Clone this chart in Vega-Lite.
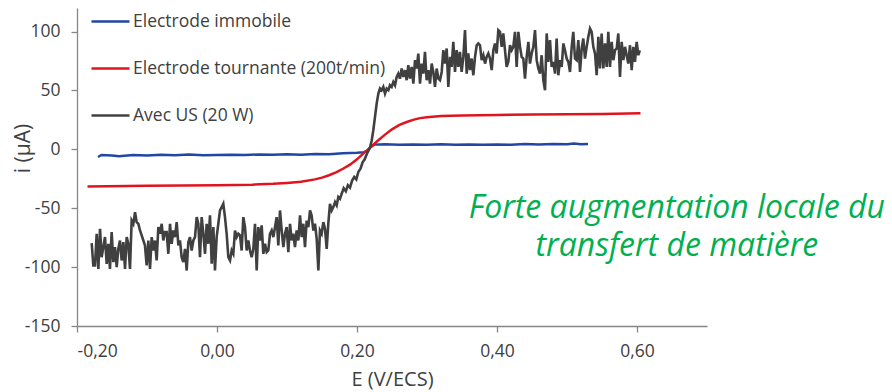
{
  "$schema": "https://vega.github.io/schema/vega-lite/v6.json",
  "width": 630,
  "height": 318,
  "autosize": {"type": "none"},
  "padding": {"left": 77, "top": 8, "right": 185, "bottom": 66},
  "background": "white",
  "config": {
    "view": {"stroke": null},
    "font": "Open Sans",
    "axis": {
      "grid": false,
      "domainColor": "#868686",
      "domainWidth": 1.3,
      "tickColor": "#868686",
      "tickWidth": 1.3,
      "tickSize": 6,
      "labelFont": "Open Sans",
      "labelFontSize": 17.5,
      "labelColor": "#404040",
      "titleFont": "Open Sans",
      "titleFontSize": 20,
      "titleFontWeight": "normal",
      "titleColor": "#404040"
    }
  },
  "datasets": {
    "immobile": [
      {"E": -0.170, "i": -6.5}, {"E": -0.165, "i": -4.8}, {"E": -0.15, "i": -5.2}, {"E": -0.14, "i": -5.8},
      {"E": -0.12, "i": -4.9}, {"E": -0.10, "i": -5.3}, {"E": -0.08, "i": -4.6}, {"E": -0.06, "i": -5.0},
      {"E": -0.04, "i": -4.4}, {"E": -0.02, "i": -5.1}, {"E": 0.00, "i": -4.8}, {"E": 0.02, "i": -4.5},
      {"E": 0.04, "i": -4.9}, {"E": 0.06, "i": -4.3}, {"E": 0.08, "i": -4.7}, {"E": 0.10, "i": -4.2},
      {"E": 0.12, "i": -4.5}, {"E": 0.14, "i": -3.9}, {"E": 0.16, "i": -4.1}, {"E": 0.18, "i": -3.4},
      {"E": 0.20, "i": -3.0}, {"E": 0.21, "i": -2.4}, {"E": 0.215, "i": -1.0}, {"E": 0.22, "i": 2.5},
      {"E": 0.225, "i": 4.0}, {"E": 0.24, "i": 4.3}, {"E": 0.26, "i": 3.9}, {"E": 0.28, "i": 4.2},
      {"E": 0.30, "i": 3.8}, {"E": 0.32, "i": 4.3}, {"E": 0.34, "i": 3.9}, {"E": 0.36, "i": 4.1},
      {"E": 0.38, "i": 3.8}, {"E": 0.40, "i": 4.2}, {"E": 0.42, "i": 3.9}, {"E": 0.44, "i": 4.5},
      {"E": 0.46, "i": 4.0}, {"E": 0.48, "i": 4.6}, {"E": 0.50, "i": 4.3}, {"E": 0.51, "i": 5.0},
      {"E": 0.52, "i": 4.4}, {"E": 0.53, "i": 4.6}
    ],
    "tournante": [
      {"E": -0.185, "i": -31.5}, {"E": -0.10, "i": -31.0}, {"E": 0.0, "i": -30.5}, {"E": 0.05, "i": -30.0},
      {"E": 0.08, "i": -29.3}, {"E": 0.10, "i": -28.5}, {"E": 0.12, "i": -27.5}, {"E": 0.14, "i": -25.5},
      {"E": 0.15, "i": -24.0}, {"E": 0.16, "i": -22.0}, {"E": 0.17, "i": -19.5}, {"E": 0.18, "i": -16.5},
      {"E": 0.19, "i": -13.0}, {"E": 0.20, "i": -8.5}, {"E": 0.21, "i": -3.0}, {"E": 0.22, "i": 2.0},
      {"E": 0.23, "i": 7.5}, {"E": 0.24, "i": 12.5}, {"E": 0.25, "i": 17.0}, {"E": 0.26, "i": 20.5},
      {"E": 0.27, "i": 23.0}, {"E": 0.28, "i": 25.0}, {"E": 0.29, "i": 26.5}, {"E": 0.30, "i": 27.3},
      {"E": 0.32, "i": 28.2}, {"E": 0.35, "i": 28.8}, {"E": 0.40, "i": 29.2}, {"E": 0.45, "i": 29.5},
      {"E": 0.50, "i": 29.8}, {"E": 0.55, "i": 30.0}, {"E": 0.605, "i": 30.6}
    ],
    "us": [
      {"E": -0.179, "i": -79.7}, {"E": -0.1767, "i": -98.6}, {"E": -0.1743, "i": -98.6}, {"E": -0.1719, "i": -71.7},
      {"E": -0.1695, "i": -101.5}, {"E": -0.1671, "i": -67.4}, {"E": -0.1648, "i": -91.6}, {"E": -0.1624, "i": -83.0},
      {"E": -0.16, "i": -74.5}, {"E": -0.1576, "i": -97.2}, {"E": -0.1552, "i": -80.2}, {"E": -0.1529, "i": -101.5},
      {"E": -0.1505, "i": -70.3}, {"E": -0.1481, "i": -95.8}, {"E": -0.1457, "i": -83.0}, {"E": -0.1433, "i": -100.1},
      {"E": -0.141, "i": -84.5}, {"E": -0.1386, "i": -77.4}, {"E": -0.1362, "i": -94.4}, {"E": -0.1338, "i": -78.8},
      {"E": -0.1314, "i": -101.5}, {"E": -0.129, "i": -74.5}, {"E": -0.1267, "i": -80.2}, {"E": -0.1243, "i": -101.5},
      {"E": -0.1219, "i": -60.4}, {"E": -0.1195, "i": -63.2}, {"E": -0.1171, "i": -53.3}, {"E": -0.1148, "i": -61.8},
      {"E": -0.1124, "i": -63.2}, {"E": -0.11, "i": -68.9}, {"E": -0.1076, "i": -73.1}, {"E": -0.1052, "i": -77.4},
      {"E": -0.1029, "i": -81.6}, {"E": -0.1005, "i": -98.6}, {"E": -0.0981, "i": -77.4}, {"E": -0.0957, "i": -101.5},
      {"E": -0.0933, "i": -74.5}, {"E": -0.091, "i": -85.9}, {"E": -0.0886, "i": -77.4}, {"E": -0.0862, "i": -94.4},
      {"E": -0.0838, "i": -66.0}, {"E": -0.0814, "i": -71.7}, {"E": -0.079, "i": -63.2}, {"E": -0.0767, "i": -77.4},
      {"E": -0.0743, "i": -70.3}, {"E": -0.0719, "i": -70.3}, {"E": -0.0695, "i": -88.7}, {"E": -0.0671, "i": -63.2},
      {"E": -0.0648, "i": -80.2}, {"E": -0.0624, "i": -68.9}, {"E": -0.06, "i": -74.5}, {"E": -0.0576, "i": -61.8},
      {"E": -0.0552, "i": -81.6}, {"E": -0.0529, "i": -77.4}, {"E": -0.0505, "i": -91.6}, {"E": -0.0481, "i": -95.8},
      {"E": -0.0457, "i": -84.5}, {"E": -0.0433, "i": -102.9}, {"E": -0.041, "i": -78.8}, {"E": -0.0386, "i": -74.5},
      {"E": -0.0362, "i": -85.9}, {"E": -0.0338, "i": -77.4}, {"E": -0.0314, "i": -74.5}, {"E": -0.029, "i": -57.6},
      {"E": -0.0267, "i": -63.2}, {"E": -0.0243, "i": -91.6}, {"E": -0.0219, "i": -57.6}, {"E": -0.0195, "i": -71.7},
      {"E": -0.0171, "i": -88.7}, {"E": -0.0148, "i": -63.2}, {"E": -0.0124, "i": -80.2}, {"E": -0.01, "i": -56.1},
      {"E": -0.0076, "i": -97.2}, {"E": -0.0052, "i": -66.0}, {"E": -0.0029, "i": -102.9}, {"E": -0.0005, "i": -74.5},
      {"E": 0.0019, "i": -63.2}, {"E": 0.0043, "i": -51.9}, {"E": 0.0067, "i": -49.0}, {"E": 0.009, "i": -46.2},
      {"E": 0.0114, "i": -57.6}, {"E": 0.0138, "i": -71.7}, {"E": 0.0162, "i": -91.6}, {"E": 0.0186, "i": -94.4},
      {"E": 0.021, "i": -85.9}, {"E": 0.0233, "i": -88.7}, {"E": 0.0257, "i": -68.9}, {"E": 0.0281, "i": -74.5},
      {"E": 0.0305, "i": -71.7}, {"E": 0.0329, "i": -73.1}, {"E": 0.0352, "i": -85.9}, {"E": 0.0376, "i": -57.6},
      {"E": 0.04, "i": -66.0}, {"E": 0.0424, "i": -85.9}, {"E": 0.0448, "i": -77.4}, {"E": 0.0471, "i": -85.9},
      {"E": 0.0495, "i": -91.6}, {"E": 0.0519, "i": -84.5}, {"E": 0.0543, "i": -63.2}, {"E": 0.0567, "i": -102.9},
      {"E": 0.059, "i": -66.0}, {"E": 0.0614, "i": -77.4}, {"E": 0.0638, "i": -64.6}, {"E": 0.0662, "i": -88.7},
      {"E": 0.0686, "i": -80.2}, {"E": 0.071, "i": -87.3}, {"E": 0.0733, "i": -85.9}, {"E": 0.0757, "i": -71.7},
      {"E": 0.0781, "i": -68.9}, {"E": 0.0805, "i": -74.5}, {"E": 0.0829, "i": -66.0}, {"E": 0.0852, "i": -57.6},
      {"E": 0.0876, "i": -81.6}, {"E": 0.09, "i": -51.9}, {"E": 0.0924, "i": -68.9}, {"E": 0.0948, "i": -83.0},
      {"E": 0.0971, "i": -71.7}, {"E": 0.0995, "i": -66.0}, {"E": 0.1019, "i": -87.3}, {"E": 0.1043, "i": -63.2},
      {"E": 0.1067, "i": -77.4}, {"E": 0.109, "i": -71.7}, {"E": 0.1114, "i": -83.0}, {"E": 0.1138, "i": -68.9},
      {"E": 0.1162, "i": -77.4}, {"E": 0.1186, "i": -56.1}, {"E": 0.121, "i": -74.5}, {"E": 0.1233, "i": -63.2},
      {"E": 0.1257, "i": -83.0}, {"E": 0.1281, "i": -60.4}, {"E": 0.1305, "i": -66.0}, {"E": 0.1329, "i": -51.9},
      {"E": 0.1352, "i": -56.1}, {"E": 0.1376, "i": -68.9}, {"E": 0.14, "i": -63.2}, {"E": 0.1424, "i": -75.9},
      {"E": 0.1448, "i": -102.9}, {"E": 0.1471, "i": -68.9}, {"E": 0.1495, "i": -71.7}, {"E": 0.1519, "i": -61.8},
      {"E": 0.1543, "i": -67.4}, {"E": 0.1567, "i": -84.5}, {"E": 0.159, "i": -63.2}, {"E": 0.1614, "i": -46.2},
      {"E": 0.1638, "i": -51.9}, {"E": 0.1662, "i": -49.0}, {"E": 0.1686, "i": -44.8}, {"E": 0.171, "i": -47.6},
      {"E": 0.1733, "i": -40.5}, {"E": 0.1757, "i": -42.0}, {"E": 0.1781, "i": -37.7}, {"E": 0.181, "i": -33.0},
      {"E": 0.184, "i": -35.5}, {"E": 0.187, "i": -30.5}, {"E": 0.19, "i": -32.5}, {"E": 0.193, "i": -26.5},
      {"E": 0.196, "i": -23.5}, {"E": 0.199, "i": -25.5}, {"E": 0.202, "i": -19.0}, {"E": 0.205, "i": -16.5},
      {"E": 0.208, "i": -11.0}, {"E": 0.211, "i": -8.5}, {"E": 0.214, "i": -4.0}, {"E": 0.2186, "i": 1.5},
      {"E": 0.221, "i": 7.5}, {"E": 0.2233, "i": 16.2}, {"E": 0.2257, "i": 27.5}, {"E": 0.2281, "i": 38.8},
      {"E": 0.2305, "i": 47.3}, {"E": 0.2329, "i": 51.6}, {"E": 0.2352, "i": 50.2}, {"E": 0.2376, "i": 53.0},
      {"E": 0.24, "i": 47.3}, {"E": 0.2424, "i": 51.6}, {"E": 0.2448, "i": 50.2}, {"E": 0.2471, "i": 54.4},
      {"E": 0.2495, "i": 53.0}, {"E": 0.2519, "i": 57.2}, {"E": 0.2543, "i": 54.4}, {"E": 0.2567, "i": 61.5},
      {"E": 0.259, "i": 64.3}, {"E": 0.2614, "i": 60.0}, {"E": 0.2638, "i": 68.6}, {"E": 0.2662, "i": 61.5},
      {"E": 0.2686, "i": 67.2}, {"E": 0.271, "i": 58.7}, {"E": 0.2733, "i": 71.4}, {"E": 0.2757, "i": 60.0},
      {"E": 0.2781, "i": 70.0}, {"E": 0.2805, "i": 55.8}, {"E": 0.2829, "i": 75.7}, {"E": 0.2852, "i": 68.6},
      {"E": 0.2876, "i": 81.3}, {"E": 0.29, "i": 55.8}, {"E": 0.2924, "i": 72.8}, {"E": 0.2948, "i": 64.3},
      {"E": 0.2971, "i": 82.7}, {"E": 0.2995, "i": 58.7}, {"E": 0.3019, "i": 67.2}, {"E": 0.3043, "i": 55.8},
      {"E": 0.3067, "i": 72.8}, {"E": 0.309, "i": 65.7}, {"E": 0.3114, "i": 53.0}, {"E": 0.3138, "i": 68.6},
      {"E": 0.3162, "i": 60.1}, {"E": 0.3186, "i": 58.7}, {"E": 0.321, "i": 65.7}, {"E": 0.3233, "i": 84.2},
      {"E": 0.3257, "i": 72.8}, {"E": 0.3281, "i": 85.6}, {"E": 0.3305, "i": 53.0}, {"E": 0.3329, "i": 78.5},
      {"E": 0.3352, "i": 70.0}, {"E": 0.3376, "i": 91.3}, {"E": 0.34, "i": 65.7}, {"E": 0.3424, "i": 84.2},
      {"E": 0.3448, "i": 70.0}, {"E": 0.3471, "i": 82.8}, {"E": 0.3495, "i": 65.7}, {"E": 0.3519, "i": 78.5},
      {"E": 0.3543, "i": 101.2}, {"E": 0.3567, "i": 64.3}, {"E": 0.359, "i": 81.4}, {"E": 0.3614, "i": 67.2},
      {"E": 0.3638, "i": 77.1}, {"E": 0.3662, "i": 62.9}, {"E": 0.3686, "i": 78.5}, {"E": 0.371, "i": 88.4},
      {"E": 0.3733, "i": 89.9}, {"E": 0.3757, "i": 88.4}, {"E": 0.3781, "i": 75.7}, {"E": 0.3805, "i": 79.9},
      {"E": 0.3829, "i": 72.8}, {"E": 0.3852, "i": 78.5}, {"E": 0.3876, "i": 81.4}, {"E": 0.39, "i": 77.1},
      {"E": 0.3924, "i": 67.2}, {"E": 0.3948, "i": 84.2}, {"E": 0.3971, "i": 89.9}, {"E": 0.3995, "i": 81.4},
      {"E": 0.4019, "i": 101.2}, {"E": 0.4043, "i": 99.8}, {"E": 0.4067, "i": 87.0}, {"E": 0.409, "i": 98.4},
      {"E": 0.4114, "i": 84.2}, {"E": 0.4138, "i": 70.0}, {"E": 0.4162, "i": 74.3}, {"E": 0.4186, "i": 88.4},
      {"E": 0.421, "i": 84.2}, {"E": 0.4233, "i": 87.0}, {"E": 0.4257, "i": 99.8}, {"E": 0.4281, "i": 70.0},
      {"E": 0.4305, "i": 99.8}, {"E": 0.4329, "i": 87.0}, {"E": 0.4352, "i": 78.5}, {"E": 0.4376, "i": 77.1},
      {"E": 0.44, "i": 60.1}, {"E": 0.4424, "i": 78.5}, {"E": 0.4448, "i": 91.3}, {"E": 0.4471, "i": 72.8},
      {"E": 0.4495, "i": 81.4}, {"E": 0.4519, "i": 87.0}, {"E": 0.4543, "i": 101.2}, {"E": 0.4567, "i": 75.7},
      {"E": 0.459, "i": 68.6}, {"E": 0.4614, "i": 64.3}, {"E": 0.4638, "i": 79.9}, {"E": 0.4662, "i": 58.7},
      {"E": 0.4686, "i": 50.2}, {"E": 0.471, "i": 98.4}, {"E": 0.4733, "i": 74.3}, {"E": 0.4757, "i": 92.7},
      {"E": 0.4781, "i": 70.0}, {"E": 0.4805, "i": 74.3}, {"E": 0.4829, "i": 64.3}, {"E": 0.4852, "i": 94.1},
      {"E": 0.4876, "i": 62.9}, {"E": 0.49, "i": 75.7}, {"E": 0.4924, "i": 70.0}, {"E": 0.4948, "i": 89.9},
      {"E": 0.4971, "i": 84.2}, {"E": 0.4995, "i": 77.1}, {"E": 0.5019, "i": 74.3}, {"E": 0.5043, "i": 65.7},
      {"E": 0.5067, "i": 87.0}, {"E": 0.509, "i": 99.8}, {"E": 0.5114, "i": 77.1}, {"E": 0.5138, "i": 75.7},
      {"E": 0.5162, "i": 92.7}, {"E": 0.5186, "i": 65.7}, {"E": 0.521, "i": 85.6}, {"E": 0.5233, "i": 94.1},
      {"E": 0.5257, "i": 77.1}, {"E": 0.5281, "i": 87.0}, {"E": 0.5305, "i": 95.5}, {"E": 0.5329, "i": 102.6},
      {"E": 0.5352, "i": 99.8}, {"E": 0.5376, "i": 87.0}, {"E": 0.54, "i": 81.4}, {"E": 0.5424, "i": 62.9},
      {"E": 0.5448, "i": 95.5}, {"E": 0.5471, "i": 68.6}, {"E": 0.5495, "i": 98.4}, {"E": 0.5519, "i": 68.6},
      {"E": 0.5543, "i": 89.9}, {"E": 0.5567, "i": 70.0}, {"E": 0.559, "i": 99.8}, {"E": 0.5614, "i": 70.0},
      {"E": 0.5638, "i": 91.3}, {"E": 0.5662, "i": 75.7}, {"E": 0.5686, "i": 84.2}, {"E": 0.571, "i": 85.6},
      {"E": 0.5733, "i": 98.4}, {"E": 0.5757, "i": 61.5}, {"E": 0.5781, "i": 91.3}, {"E": 0.5805, "i": 75.7},
      {"E": 0.5829, "i": 87.0}, {"E": 0.5852, "i": 79.9}, {"E": 0.5876, "i": 72.8}, {"E": 0.59, "i": 88.4},
      {"E": 0.5924, "i": 67.2}, {"E": 0.5948, "i": 87.0}, {"E": 0.5971, "i": 74.3}, {"E": 0.5995, "i": 91.3},
      {"E": 0.6019, "i": 79.9}, {"E": 0.604, "i": 84.0}
    ],
    "note": [
      {"E": 0.657, "i": -58.5, "t": "Forte augmentation locale du\ntransfert de matière"}
    ]
  },
  "encoding": {
    "x": {
      "field": "E", "type": "quantitative",
      "scale": {"domain": [-0.2, 0.7], "nice": false, "zero": false},
      "axis": {
        "values": [-0.2, 0, 0.2, 0.4, 0.6],
        "labelExpr": "replace(replace(format(datum.value, '.2f'), '.', ','), '−', '-')",
        "labelPadding": 10,
        "title": "E (V/ECS)",
        "titlePadding": 10
      }
    },
    "y": {
      "field": "i", "type": "quantitative",
      "scale": {"domain": [-150, 120], "nice": false, "zero": false},
      "axis": {
        "values": [-150, -100, -50, 0, 50, 100],
        "labelExpr": "replace(format(datum.value, 'd'), '−', '-')",
        "labelPadding": 11,
        "title": "i (µA)",
        "titleFontSize": 21,
        "titleX": -48,
        "titleY": 140,
        "titleBaseline": "alphabetic"
      }
    }
  },
  "layer": [
    {
      "data": {"name": "immobile"},
      "mark": {"type": "line", "strokeWidth": 2.5, "interpolate": "linear"},
      "encoding": {
        "color": {
          "datum": "Electrode immobile",
          "type": "nominal",
          "scale": {
            "domain": ["Electrode immobile", "Electrode tournante (200t/min)", "Avec US (20 W)"],
            "range": ["#2046a6", "#e0141e", "#404040"]
          },
          "legend": {
            "orient": "none",
            "legendX": 13,
            "legendY": -7,
            "title": null,
            "padding": 0,
            "symbolType": "stroke",
            "symbolSize": 1444,
            "symbolStrokeWidth": 2.5,
            "labelFont": "Open Sans",
            "labelFontSize": 17.5,
            "labelColor": "#404040",
            "labelOffset": 2,
            "rowPadding": 18,
            "labelLimit": 400
          }
        }
      }
    },
    {
      "data": {"name": "tournante"},
      "mark": {"type": "line", "strokeWidth": 2.5},
      "encoding": {"color": {"datum": "Electrode tournante (200t/min)", "type": "nominal"}}
    },
    {
      "data": {"name": "us"},
      "mark": {"type": "line", "strokeWidth": 2.6},
      "encoding": {"color": {"datum": "Avec US (20 W)", "type": "nominal"}}
    },
    {
      "data": {"name": "note"},
      "mark": {
        "type": "text",
        "font": "Open Sans",
        "fontStyle": "italic",
        "fontSize": 32,
        "color": "#00b050",
        "align": "center",
        "baseline": "alphabetic",
        "lineBreak": "\n",
        "lineHeight": 38
      },
      "encoding": {"text": {"field": "t", "type": "nominal"}}
    }
  ]
}
